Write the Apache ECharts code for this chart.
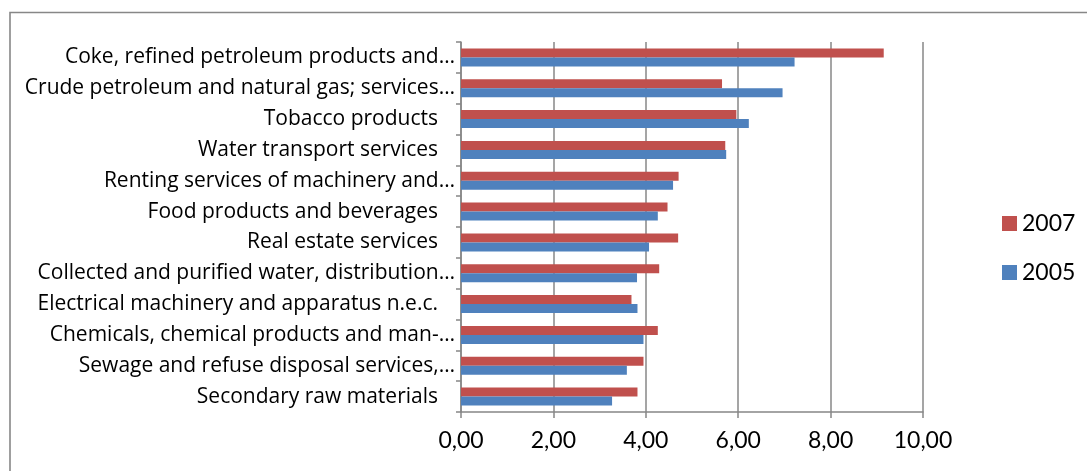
<!DOCTYPE html>
<html>
<head>
<meta charset="utf-8">
<title>Sector values 2005 / 2007</title>
<script src="https://cdn.jsdelivr.net/npm/echarts@6/dist/echarts.min.js"></script>
<style>
  html, body { margin: 0; padding: 0; background: #fff; }
  #chart { width: 1087px; height: 471px; }
</style>
</head>
<body>
<div id="chart"></div>
<script>
// Categories, listed top to bottom
const categories = [
  'Coke, refined petroleum products and…',
  'Crude petroleum and natural gas; services…',
  'Tobacco products',
  'Water transport services',
  'Renting services of machinery and…',
  'Food products and beverages',
  'Real estate services',
  'Collected and purified water, distribution…',
  'Electrical machinery and apparatus n.e.c.',
  'Chemicals, chemical products and man-…',
  'Sewage and refuse disposal services,…',
  'Secondary raw materials'
];
const values2007 = [9.15, 5.65, 5.96, 5.72, 4.71, 4.47, 4.70, 4.29, 3.69, 4.26, 3.95, 3.82];
const values2005 = [7.22, 6.96, 6.23, 5.74, 4.59, 4.26, 4.07, 3.81, 3.82, 3.95, 3.59, 3.27];
const seriesNames = ['2007', '2005'];
const xTicks = [0, 2, 4, 6, 8, 10];

const LABEL_FONT = '"Open Sans", Lato, sans-serif';
const NUM_FONT = 'Lato, "Open Sans", sans-serif';
const GRAY = '#878787';

const chart = echarts.init(document.getElementById('chart'), null, { renderer: 'canvas' });

chart.setOption({
  backgroundColor: '#ffffff',
  animation: false,
  graphic: [{
    type: 'rect',
    shape: { x: 10, y: 12.5, width: 1100, height: 500 },
    style: { fill: 'none', stroke: GRAY, lineWidth: 1.6 },
    silent: true
  }],
  grid: { left: 461, right: 164, top: 42, bottom: 59, containLabel: false },
  legend: {
    orient: 'vertical',
    left: 997,
    top: 207,
    itemWidth: 15,
    itemHeight: 15,
    itemGap: 26,
    icon: 'rect',
    data: seriesNames,
    textStyle: { fontFamily: NUM_FONT, fontSize: 23, color: '#000' }
  },
  xAxis: {
    type: 'value',
    min: xTicks[0],
    max: xTicks[xTicks.length - 1],
    interval: 2,
    axisLine: { show: true, lineStyle: { color: GRAY, width: 1.5 } },
    axisTick: { show: true, length: 6, lineStyle: { color: GRAY, width: 1.5 } },
    splitLine: { show: true, lineStyle: { color: GRAY, width: 1.5 } },
    axisLabel: {
      margin: 17,
      fontFamily: NUM_FONT,
      fontSize: 23,
      color: '#000',
      formatter: v => v.toFixed(2).replace('.', ',')
    }
  },
  yAxis: {
    type: 'category',
    inverse: true,
    data: categories,
    axisLine: { show: true, lineStyle: { color: GRAY, width: 1.5 } },
    axisTick: { show: true, length: 5, lineStyle: { color: GRAY, width: 1.5 } },
    splitLine: { show: false },
    axisLabel: {
      margin: 6,
      fontFamily: LABEL_FONT,
      fontSize: 21,
      color: '#000',
      // truncated names sit right against the ticks, full names keep a small gap
      formatter: v => v.endsWith('…') ? '{t|' + v + '}' : '{p|' + v + '}',
      rich: {
        t: { fontFamily: LABEL_FONT, fontSize: 21, color: '#000' },
        p: { fontFamily: LABEL_FONT, fontSize: 21, color: '#000', padding: [0, 17, 0, 0] }
      }
    }
  },
  series: [
    {
      name: seriesNames[0],
      type: 'bar',
      data: values2007,
      barWidth: 9,
      barGap: '0%',
      itemStyle: { color: '#C0504D' }
    },
    {
      name: seriesNames[1],
      type: 'bar',
      data: values2005,
      barWidth: 9,
      barGap: '0%',
      itemStyle: { color: '#4F81BD' }
    }
  ]
});
</script>
</body>
</html>
